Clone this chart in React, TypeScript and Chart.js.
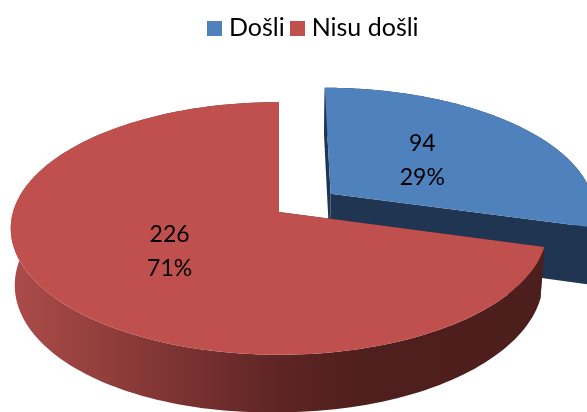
import React, { useEffect, useRef } from "react";
import { Chart, registerables } from "chart.js";

Chart.register(...registerables);

const categories = ["Došli", "Nisu došli"];
const values = [94, 226];
const percents = ["29%", "71%"];

const topColors = ["#4f81bd", "#c0504d"];
const FONT = "Lato, Carlito, Calibri, sans-serif";
const LABEL_SIZE = 23;
const LEGEND_SIZE = 25;

// Perspective of the pie's plane
const CX = 279;
const CY = 212;
const PERSPECTIVE = 0.13;
const TILT = 0.467;
const DEPTHS = [56, 50];
const LEFT_EXTRA = [0, 6];
const SHRINK = 0.985;
const LABEL_RADIUS = [0.46, 0.5];
const LABEL_DY = [-1, 1];

function swatch(color: string) {
  const c = document.createElement("canvas");
  c.width = 15;
  c.height = 15;
  const g = c.getContext("2d")!;
  g.fillStyle = color;
  g.fillRect(0, 0, 15, 15);
  return c;
}

function project(wx: number, wy: number, R: number) {
  const v = wy / R;
  const s = 1 / (1 - PERSPECTIVE * v);
  return { x: CX + wx * s, y: CY + TILT * wy * s, s, u: wx / R };
}

function lower(p: { x: number; y: number; s: number; u: number }, i: number) {
  const extra = Math.max(0, -p.u) * LEFT_EXTRA[i];
  return { x: CX + (p.x - CX) * SHRINK, y: p.y + DEPTHS[i] * p.s + extra };
}

function wallFill(ctx: CanvasRenderingContext2D, index: number) {
  if (index === 0) return "#1f3552";
  const g = ctx.createLinearGradient(11, 0, 545, 0);
  g.addColorStop(0, "#ab4c49");
  g.addColorStop(0.17, "#933f3d");
  g.addColorStop(0.36, "#742f2e");
  g.addColorStop(0.52, "#5c2423");
  g.addColorStop(0.66, "#4f1f1d");
  g.addColorStop(1, "#4c1e1c");
  return g;
}

const pie3d = {
  id: "pie3d",
  beforeDatasetDraw(chart: any, args: any) {
    const ctx: CanvasRenderingContext2D = chart.ctx;
    const arcs = args.meta.data;
    arcs.forEach((arc: any, i: number) => {
      const R = arc.outerRadius;
      const mid = (arc.startAngle + arc.endAngle) / 2;
      const off = arc.options.offset || 0;
      const ox = off * Math.cos(mid);
      const oy = off * Math.sin(mid);
      const STEPS = 160;
      const rim: any[] = [];
      for (let k = 0; k <= STEPS; k++) {
        const a = arc.startAngle + ((arc.endAngle - arc.startAngle) * k) / STEPS;
        rim.push(project(ox + R * Math.cos(a), oy + R * Math.sin(a), R));
      }
      const apex = project(ox, oy, R);

      // side walls
      ctx.save();
      ctx.fillStyle = wallFill(ctx, i);
      ctx.beginPath();
      rim.forEach((p, k) => (k ? ctx.lineTo(p.x, p.y) : ctx.moveTo(p.x, p.y)));
      for (let k = rim.length - 1; k >= 0; k--) {
        const q = lower(rim[k], i);
        ctx.lineTo(q.x, q.y);
      }
      ctx.closePath();
      ctx.fill();
      // cut faces
      [rim[0], rim[rim.length - 1]].forEach((p) => {
        const a = lower(apex, i);
        const b = lower(p, i);
        ctx.fillStyle = i === 0 ? "#1f3552" : "#4c1e1c";
        ctx.beginPath();
        ctx.moveTo(apex.x, apex.y);
        ctx.lineTo(p.x, p.y);
        ctx.lineTo(b.x, b.y);
        ctx.lineTo(a.x, a.y);
        ctx.closePath();
        ctx.fill();
      });
      // top face
      ctx.fillStyle = arc.options.backgroundColor;
      ctx.beginPath();
      ctx.moveTo(apex.x, apex.y);
      rim.forEach((p) => ctx.lineTo(p.x, p.y));
      ctx.closePath();
      ctx.fill();
      ctx.restore();
    });
    // data labels above every slice
    arcs.forEach((arc: any, i: number) => {
      const R = arc.outerRadius;
      const mid = (arc.startAngle + arc.endAngle) / 2;
      const off = arc.options.offset || 0;
      const r = off + R * LABEL_RADIUS[i];
      const c = project(r * Math.cos(mid), r * Math.sin(mid), R);
      ctx.save();
      ctx.fillStyle = "#000";
      ctx.font = `${LABEL_SIZE}px ${FONT}`;
      ctx.textAlign = "center";
      ctx.textBaseline = "middle";
      ctx.fillText(String(values[i]), c.x + 1, c.y - 17 + LABEL_DY[i]);
      ctx.fillText(percents[i], c.x + 1, c.y + 17 + LABEL_DY[i]);
      ctx.restore();
    });
    return false;
  },
};

export default function App() {
  const ref = useRef<HTMLCanvasElement>(null);
  useEffect(() => {
    const chart = new Chart(ref.current!, {
      type: "pie",
      data: {
        labels: categories,
        datasets: [
          {
            data: values,
            backgroundColor: topColors,
            borderWidth: 0,
            offset: [66, 0],
            radius: 266,
          } as any,
        ],
      },
      options: {
        responsive: false,
        animation: false,
        layout: { padding: { left: 44, top: 5 } },
        plugins: {
          tooltip: { enabled: false },
          legend: {
            display: true,
            position: "top",
            labels: {
              usePointStyle: true,
              pointStyleWidth: 4,
              padding: 10.5,
              color: "#000",
              font: { family: FONT, size: LEGEND_SIZE },
              generateLabels: () =>
                categories.map((text, i) => ({
                  text,
                  index: i,
                  fontColor: "#000",
                  fillStyle: topColors[i],
                  strokeStyle: topColors[i],
                  lineWidth: 0,
                  hidden: false,
                  pointStyle: swatch(topColors[i]),
                })),
            },
          },
        },
      } as any,
      plugins: [pie3d],
    });
    return () => chart.destroy();
  }, []);
  return (
    <div style={{ position: "fixed", left: 0, top: 0, width: 587, height: 412, background: "#fff" }}>
      <canvas ref={ref} width={587} height={412} style={{ display: "block" }} />
    </div>
  );
}
